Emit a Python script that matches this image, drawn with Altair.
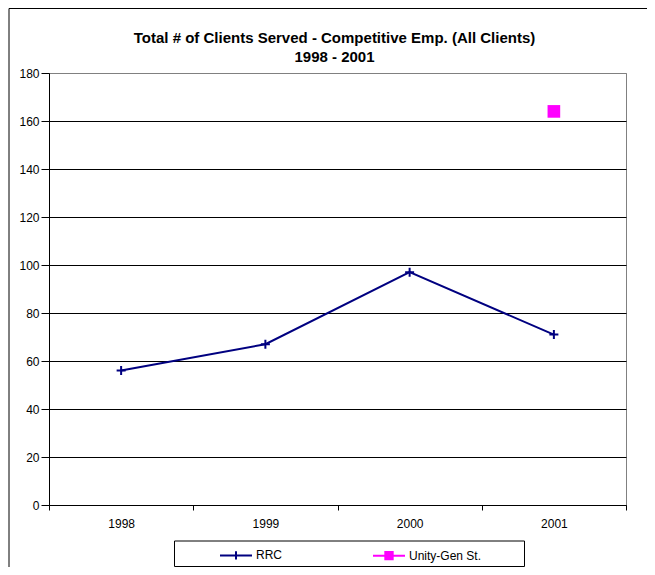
import altair as alt
import pandas as pd

years = ["1998", "1999", "2000", "2001"]
rrc_values = [56, 67, 97, 71]
unity_years = ["2001"]
unity_values = [164]
series_names = ["RRC", "Unity-Gen St."]
series_colors = ["#000080", "#FF00FF"]
y_ticks = [0, 20, 40, 60, 80, 100, 120, 140, 160, 180]
title_lines = ["Total # of Clients Served - Competitive Emp. (All Clients)", "1998 - 2001"]

rows = [{"year": y, "value": v, "series": "RRC"} for y, v in zip(years, rrc_values)]
rows += [{"year": y, "value": v, "series": "Unity-Gen St."} for y, v in zip(unity_years, unity_values)]
df = pd.DataFrame(rows)
one = pd.DataFrame({"k": [0]})

FONT = "Liberation Sans"
W, H = 577, 432
PAD = {"left": 41, "top": 65, "right": 21, "bottom": 62}

x_enc = alt.X(
    "year:N",
    scale=alt.Scale(type="band", domain=years, paddingInner=0, paddingOuter=0),
    axis=alt.Axis(
        title=None, labelAngle=0, tickBand="extent", grid=False,
        domainColor="black", tickColor="black", labelColor="black",
        labelFont=FONT, labelFontSize=12, tickSize=5, labelPadding=8,
    ),
)
y_enc = alt.Y(
    "value:Q",
    scale=alt.Scale(domain=[0, 180], nice=False, zero=True),
    axis=alt.Axis(
        title=None, values=y_ticks, grid=True,
        gridColor=alt.condition("datum.value == 180", alt.value("#808080"), alt.value("black")),
        gridWidth=1, domainColor="black", tickColor="black", labelColor="black",
        labelFont=FONT, labelFontSize=12, tickSize=8, labelPadding=2,
    ),
)

base = alt.Chart(df)

line = base.transform_filter(alt.datum.series == "RRC").mark_line(
    color=series_colors[0], strokeWidth=2
).encode(x=x_enc, y=y_enc)

crosses = base.transform_filter(alt.datum.series == "RRC").mark_point(
    shape="M-1,0L1,0M0,-1L0,1", size=81, strokeWidth=2,
    color=series_colors[0], filled=False, opacity=1,
).encode(x=x_enc, y=y_enc)

squares = base.transform_filter(alt.datum.series == "Unity-Gen St.").mark_square(
    size=160, color=series_colors[1], opacity=1
).encode(x=x_enc, y=y_enc)

legend_paths = [
    "M-1,0L1,0M0,-0.26L0,0.26",
    "M-1,0L1,0M-0.23,-0.23L0.23,-0.23L0.23,0.23L-0.23,0.23Z",
]
legend_layer = base.mark_point(opacity=0).encode(
    x=x_enc, y=y_enc,
    shape=alt.Shape("series:N", scale=alt.Scale(domain=series_names, range=legend_paths),
                    legend=alt.Legend(
                        orient="none", legendX=170, legendY=465, direction="horizontal",
                        title=None, symbolSize=1024, symbolStrokeWidth=2, symbolOpacity=1,
                        labelFont=FONT, labelFontSize=12, labelColor="black", labelOffset=3,
                        columnPadding=87, padding=0,
                    )),
    fill=alt.Fill("series:N", scale=alt.Scale(domain=series_names, range=series_colors)),
    stroke=alt.Stroke("series:N", scale=alt.Scale(domain=series_names, range=series_colors)),
)

legend_box = alt.Chart(one).mark_rect(fill="white", stroke="black", strokeWidth=1).encode(
    x=alt.value(125.5), x2=alt.value(475.5), y=alt.value(468), y2=alt.value(493.5)
)

outer_border = alt.Chart(one).mark_rect(fill="transparent", stroke="black", strokeWidth=1, clip=False).encode(
    x=alt.value(-40), x2=alt.value(800), y=alt.value(-64.5), y2=alt.value(800)
)

chart = alt.layer(outer_border, legend_box, line, crosses, squares, legend_layer).properties(
    width=W, height=H,
    padding=PAD,
    autosize=alt.AutoSizeParams(type="none"),
    background="white",
    title=alt.TitleParams(
        title_lines, font=FONT, fontSize=15, fontWeight="bold", color="black",
        anchor="middle", frame="group", offset=-57, lineHeight=19, dx=-3,
    ),
).configure_view(stroke="#808080", strokeWidth=1)

chart.save("out.html", embed_options={"renderer": "svg", "actions": False})
